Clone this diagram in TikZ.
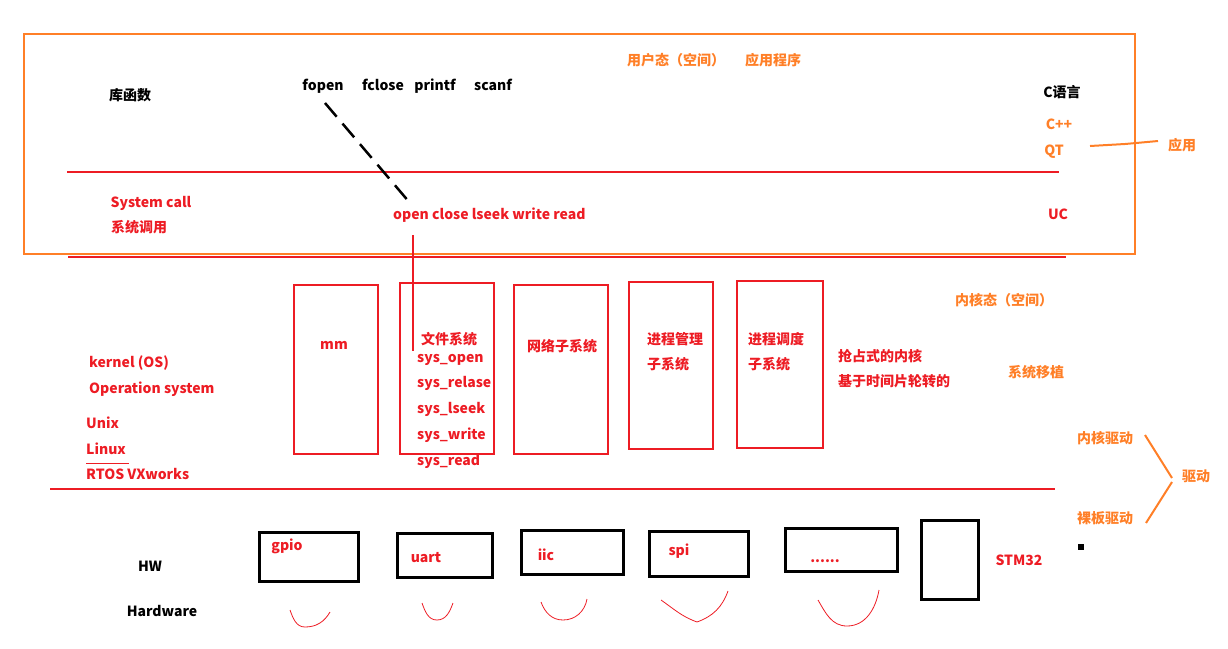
\documentclass[tikz,border=0pt]{standalone}
\usepackage{fontspec}
\setmainfont{Noto Sans CJK SC}
\usetikzlibrary{positioning}
\definecolor{pred}{RGB}{237,28,36}
\definecolor{porange}{RGB}{255,127,39}

\begin{document}
\begin{tikzpicture}[x=1pt, y=-1pt,
    every node/.style={inner sep=0, text height=11, text depth=3,
      font=\fontsize{14}{16}\selectfont\bfseries},
    txt/.style={text=pred},
    note/.style={text=porange},
    layer/.style={draw=pred, line width=2.5pt},
    kbox/.style={draw=pred, line width=2pt},
    hwbox/.style={draw=black, line width=3pt},
    smile/.style={draw=pred, line width=0.8pt},
    syslist/.style={txt, below=11.5pt of #1.south west, anchor=north west}
  ]
  \useasboundingbox (0,0) rectangle (1228,648);

  \draw[porange, line width=2.5pt] (24,34) rectangle (1135,254);
  \draw[layer] (67,172) -- (1059,172);
  \draw[layer] (68,257) -- (1066,257);
  \draw[layer] (50,489) -- (1055,489);

  % user space
  \node (libf) at (130,96) {库函数};
  \node (fopen) at (323,86) {fopen};
  \node (fclose) at (383,86) {fclose};
  \node (printf) at (435,86) {printf};
  \node (scanf) at (493,86) {scanf};
  \node[note] (ustate) at (676,61) {用户态（空间）};
  \node[note] (apps) at (773,61) {应用程序};
  \node (clang) at (1062,93) {C语言};
  \node[note] (cpp) at (1059,125) {C++};
  \node[note] (qt) at (1054,151) {QT};
  \node[note] (app) at (1182,146) {应用};
  \node[txt] (uc) at (1058,215) {UC};
  \node[txt] (syscall) at (151,203) {System call};
  \node[txt] (syscallcn) at (139,228) {系统调用};
  \node[txt, anchor=west] (oc) at (393,215) {open close lseek write read};

  \coordinate (dashtop) at (325,103);
  \coordinate (dashend) at (410,203);
  \draw[line width=2.5pt, dash pattern=on 18pt off 9pt] (dashtop) -- (dashend);
  \draw[porange, line width=2pt] (1090,146) -- (1125,144) -- (1158,141);

  % kernel space
  \node[kbox, minimum width=84, minimum height=169] (mm) at (336,369.5) {};
  \node[kbox, minimum width=94, minimum height=171] (fs) at (447,368.5) {};
  \node[kbox, minimum width=94, minimum height=169] (net) at (561,369.5) {};
  \node[kbox, minimum width=84, minimum height=167] (pm) at (671,365.5) {};
  \node[kbox, minimum width=86, minimum height=167] (ps) at (780,364.5) {};

  \node[txt] (mmlab) at (334,345) {mm};
  \node[txt] (fslab) at (449,340) {文件系统};
  \node[txt, anchor=west] (sysopen) at (417,358) {sys\_open};
  \node[syslist=sysopen] (sysrelase) {sys\_relase};
  \node[syslist=sysrelase] (syslseek) {sys\_lseek};
  \node[syslist=syslseek] (syswrite) {sys\_write};
  \node[syslist=syswrite] (sysread) {sys\_read};
  \coordinate (fsline) at (413,235);
  \draw[pred, line width=2pt] (fsline) -- (fsline |- sysopen.north);

  \node[txt] (netlab) at (562,347) {网络子系统};
  \node[txt, anchor=west] (pmlab) at (647,340) {进程管理};
  \node[txt, below=11.5pt of pmlab.south west, anchor=north west] (pmsub) {子系统};
  \node[txt, anchor=west] (pslab) at (748,340) {进程调度};
  \node[txt, below=11.5pt of pslab.south west, anchor=north west] (pssub) {子系统};
  \node[txt, anchor=west] (preempt) at (838,357) {抢占式的内核};
  \node[txt, below=11.5pt of preempt.south west, anchor=north west] (slice) {基于时间片轮转的};

  \node[note] (kstate) at (1004,301) {内核态（空间）};
  \node[note] (port) at (1036,373) {系统移植};

  \node[txt, anchor=west] (kernel) at (89,363) {kernel (OS)};
  \node[txt, anchor=west] (opsys) at (89,389) {Operation system};
  \node[txt, anchor=west] (unix) at (86,424) {Unix};
  \node[txt, anchor=west] (linux) at (86,450) {Linux};
  \node[txt, anchor=west] (rtos) at (86,475) {RTOS VXworks};
  \draw[pred, line width=1pt] (86,463) -- (129,463);

  % drivers
  \node[note] (kdrv) at (1105,439) {内核驱动};
  \node[note] (bdrv) at (1105,519) {裸板驱动};
  \node[note] (drv) at (1196,477) {驱动};
  \draw[porange, line width=2pt] (1145,435) -- (1172,478);
  \draw[porange, line width=2pt] (1146,523) -- (1172,482);
  \fill (1078,544) rectangle (1084,550);

  % hardware
  \node (hw) at (150,567) {HW};
  \node (hwfull) at (162,612) {Hardware};
  \node[hwbox, minimum width=99, minimum height=49] (gpio) at (308.5,556.5) {};
  \node[hwbox, minimum width=95, minimum height=44] (uart) at (444.5,555) {};
  \node[hwbox, minimum width=102, minimum height=44] (iic) at (572,552) {};
  \node[hwbox, minimum width=99, minimum height=45] (spi) at (698.5,553.5) {};
  \node[hwbox, minimum width=112, minimum height=43] (more) at (841,549.5) {};
  \node[hwbox, minimum width=57, minimum height=79] (stm) at (949.5,559.5) {};
  \node[txt] (gpiolab) at (287,546) {gpio};
  \node[txt] (uartlab) at (426,558) {uart};
  \node[txt] (iiclab) at (546,556) {iic};
  \node[txt] (spilab) at (679,551) {spi};
  \node[txt] (morelab) at (825,558) {......};
  \node[txt] (stmlab) at (1019,561) {STM32};

  \draw[smile] (290,610) to[out=-70,in=180] (305,627) to[out=0,in=-120] (330,612);
  \draw[smile] (422,603) to[out=-70,in=180] (437,620) to[out=0,in=-110] (453,603);
  \draw[smile] (541,602) to[out=-70,in=180] (563,620) to[out=0,in=-100] (587,599);
  \draw[smile] (661,600) to[out=-35,in=160] (697,622) to[out=20,in=-110] (728,591);
  \draw[smile] (818,600) to[out=-60,in=180] (847,626) to[out=0,in=-100] (879,590);
\end{tikzpicture}
\end{document}
